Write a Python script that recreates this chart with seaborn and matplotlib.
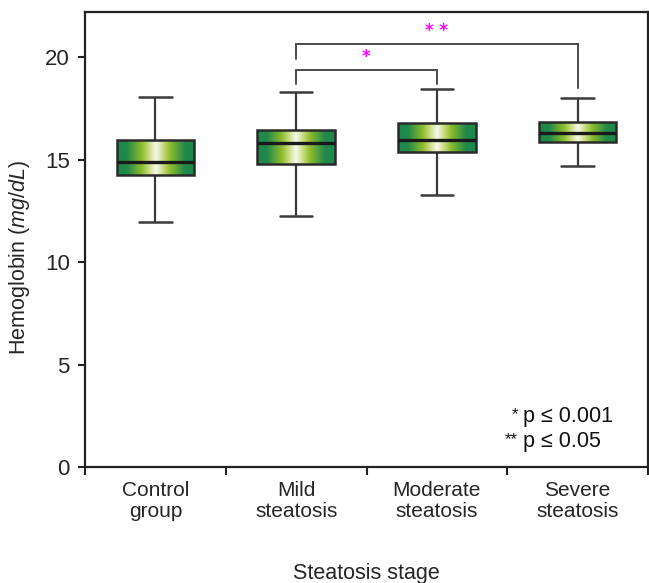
import numpy as np
import pandas as pd
import matplotlib
matplotlib.use("Agg")
import matplotlib.pyplot as plt
from matplotlib.colors import LinearSegmentedColormap
from matplotlib import font_manager
import seaborn as sns

# ---- data ----
categories = ["Control\ngroup", "Mild\nsteatosis", "Moderate\nsteatosis", "Severe\nsteatosis"]
whisker_low = [11.93, 12.23, 13.27, 14.67]
q1 = [14.24, 14.78, 15.38, 15.85]
median = [14.90, 15.79, 15.94, 16.32]
q3 = [15.95, 16.45, 16.80, 16.81]
whisker_high = [18.05, 18.29, 18.42, 18.00]

# significance brackets: (group a, group b, bar height, leg end a, leg end b, label)
brackets = [(1, 2, 19.38, 18.68, 18.70, "*"),
            (1, 3, 20.63, 19.90, 18.50, "* *")]
legend_marks = ["*", "**"]
legend_texts = ["p \u2264 0.001", "p \u2264 0.05"]
legend_y = [2.44, 1.22]

yticks = [0, 5, 10, 15, 20]

# ---- build long-form table: the five summary values per group ----
rows = []
for i, c in enumerate(categories):
    for v in (whisker_low[i], q1[i], median[i], q3[i], whisker_high[i]):
        rows.append({"group": c, "value": v})
df = pd.DataFrame(rows)

sns.set_theme(style="white")
fams = {f.name for f in font_manager.fontManager.ttflist}
main_font = "Liberation Sans Narrow" if "Liberation Sans Narrow" in fams else "Liberation Sans"
plt.rcParams["font.family"] = [main_font, "DejaVu Sans"]
plt.rcParams["mathtext.fontset"] = "custom"
plt.rcParams["mathtext.it"] = main_font + ":italic"
plt.rcParams["mathtext.rm"] = main_font

fig = plt.figure(figsize=(6.49, 5.83), dpi=100)
ax = fig.add_axes([85 / 649, (583 - 467) / 583, (648 - 85) / 649, (467 - 12) / 583])

line_c = "#2a2a2a"
sns.boxplot(data=df, x="group", y="value", order=categories, whis=(0, 100),
            width=0.55, color="white", linecolor=line_c, linewidth=1.8,
            capwidths=0.23, ax=ax,
            medianprops=dict(linewidth=2.4, color="#1a1a1a"),
            whiskerprops=dict(linewidth=1.6, color="#3a3a3a"),
            capprops=dict(linewidth=1.8, color="#3a3a3a"))

cmap = LinearSegmentedColormap.from_list(
    "grad",
    [(0.0, "#1b894c"), (0.13, "#22894a"), (0.32, "#8fbd2c"), (0.42, "#cfe08a"),
     (0.5, "#f6f8ef"), (0.58, "#cfe08a"), (0.68, "#8fbd2c"), (0.87, "#22894a"),
     (1.0, "#1b894c")])
grad = np.linspace(0, 1, 256).reshape(1, -1)
for patch in list(ax.patches):
    ext = patch.get_path().get_extents()
    im = ax.imshow(grad, cmap=cmap, aspect="auto",
                   extent=[ext.x0, ext.x1, ext.y0, ext.y1],
                   zorder=2.02, interpolation="bicubic")
    im.set_clip_path(patch)
    patch.set_facecolor("none")
    patch.set_zorder(2.05)

ax.set_xlim(-0.5, 3.5)
ax.set_ylim(0, 22.2)

# brackets
for a, b, h, la, lb, lab in brackets:
    ax.plot([a, a, b, b], [la, h, h, lb], color="#4a4a4a", lw=1.4,
            solid_joinstyle="miter", zorder=3)
    ax.text((a + b) / 2, h + 0.2, lab, color="#ff00ff", ha="center",
            va="bottom", fontsize=12, family=["DejaVu Sans"], fontweight="bold")

# p-value key
for m, t, yv in zip(legend_marks, legend_texts, legend_y):
    ax.text(2.578, yv + 0.12, m, ha="right", va="center", fontsize=12,
            color="#111111")
    ax.text(2.613, yv, t, ha="left", va="center", fontsize=15.5,
            color="#111111", family=[main_font, "DejaVu Sans"])

# axes styling
for s in ax.spines.values():
    s.set_visible(True)
    s.set_color("#222222")
    s.set_linewidth(1.6)

ax.set_yticks(yticks)
ax.set_yticklabels([str(t) for t in yticks])
ax.tick_params(axis="y", which="major", direction="out", length=5, width=1.5,
               color="#222222", labelsize=16, pad=6, left=True)
ax.set_xticks(range(len(categories)))
ax.set_xticklabels(categories, linespacing=1.15)
ax.set_xticks(np.arange(-0.5, len(categories), 1.0), minor=True)
ax.tick_params(axis="x", which="major", length=0, labelsize=15, pad=10)
ax.tick_params(axis="x", which="minor", direction="out", length=6, width=1.5,
               color="#222222", bottom=True)

ax.set_xlabel("Steatosis stage", fontsize=15.5, labelpad=30)
ax.set_ylabel("Hemoglobin $\\mathit{(mg/dL)}$", fontsize=15.5)
ax.yaxis.set_label_coords(-0.094, 0.46)

fig.savefig("out.png", dpi=100)
